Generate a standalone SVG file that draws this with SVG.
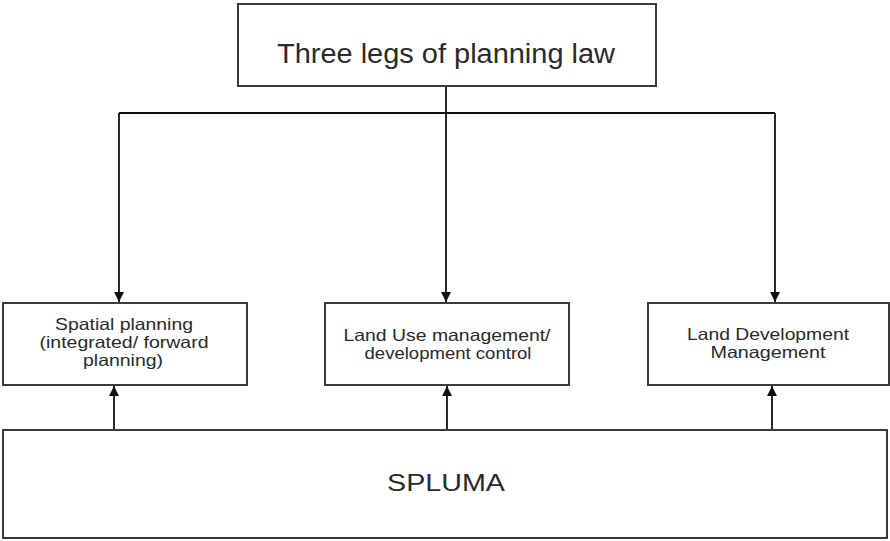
<svg xmlns="http://www.w3.org/2000/svg" width="890" height="541" viewBox="0 0 890 541">
  <style>
    .box { fill: #ffffff; stroke: #3a3a3a; stroke-width: 2; }
    .edge { fill: none; stroke: #111111; stroke-width: 1.8; }
    .lbl { font-family: "Liberation Sans", Arial, sans-serif; fill: #2a2a2a; text-anchor: middle; }
    .small { font-size: 16.5px; }
  </style>
  <defs>
    <marker id="arrow" viewBox="0 0 10 10" refX="10" refY="5" markerWidth="10" markerHeight="11" markerUnits="userSpaceOnUse" orient="auto">
      <path d="M0,0 L10,5 L0,10 Z" fill="#111111"/>
    </marker>
  </defs>
  <rect width="890" height="541" fill="#ffffff"/>

  <g id="connectors">
    <!-- from the top node, down to the three legs -->
    <path class="edge" d="M446,86 V113"/>
    <path class="edge" d="M119,113 H775"/>
    <path class="edge" d="M119,113 V302" marker-end="url(#arrow)"/>
    <path class="edge" d="M446,113 V302" marker-end="url(#arrow)"/>
    <path class="edge" d="M775,113 V302" marker-end="url(#arrow)"/>
    <!-- from SPLUMA, up to the three legs -->
    <path class="edge" d="M114,430 V386" marker-end="url(#arrow)"/>
    <path class="edge" d="M447,430 V386" marker-end="url(#arrow)"/>
    <path class="edge" d="M772,430 V386" marker-end="url(#arrow)"/>
  </g>

  <g id="planning-law">
    <rect class="box" x="238" y="4" width="418" height="82"/>
    <text class="lbl" x="446" y="63" font-size="27" textLength="338" lengthAdjust="spacingAndGlyphs">Three legs of planning law</text>
  </g>

  <g id="spatial-planning">
    <rect class="box" x="3" y="303" width="244" height="82"/>
    <text class="lbl small" x="124" y="330" textLength="138" lengthAdjust="spacingAndGlyphs">Spatial planning</text>
    <text class="lbl small" x="124" y="348" textLength="169" lengthAdjust="spacingAndGlyphs">(integrated/ forward</text>
    <text class="lbl small" x="123" y="366" textLength="80" lengthAdjust="spacingAndGlyphs">planning)</text>
  </g>

  <g id="land-use-management">
    <rect class="box" x="325" y="303" width="244" height="82"/>
    <text class="lbl small" x="447" y="341" textLength="207" lengthAdjust="spacingAndGlyphs">Land Use management/</text>
    <text class="lbl small" x="448" y="359" textLength="167" lengthAdjust="spacingAndGlyphs">development control</text>
  </g>

  <g id="land-development-management">
    <rect class="box" x="648" y="303" width="241" height="82"/>
    <text class="lbl small" x="768" y="340" textLength="162" lengthAdjust="spacingAndGlyphs">Land Development</text>
    <text class="lbl small" x="768" y="358" textLength="115" lengthAdjust="spacingAndGlyphs">Management</text>
  </g>

  <g id="spluma">
    <rect class="box" x="3" y="430" width="884" height="108"/>
    <text class="lbl" x="446" y="491" font-size="23" textLength="118" lengthAdjust="spacingAndGlyphs">SPLUMA</text>
  </g>
</svg>
